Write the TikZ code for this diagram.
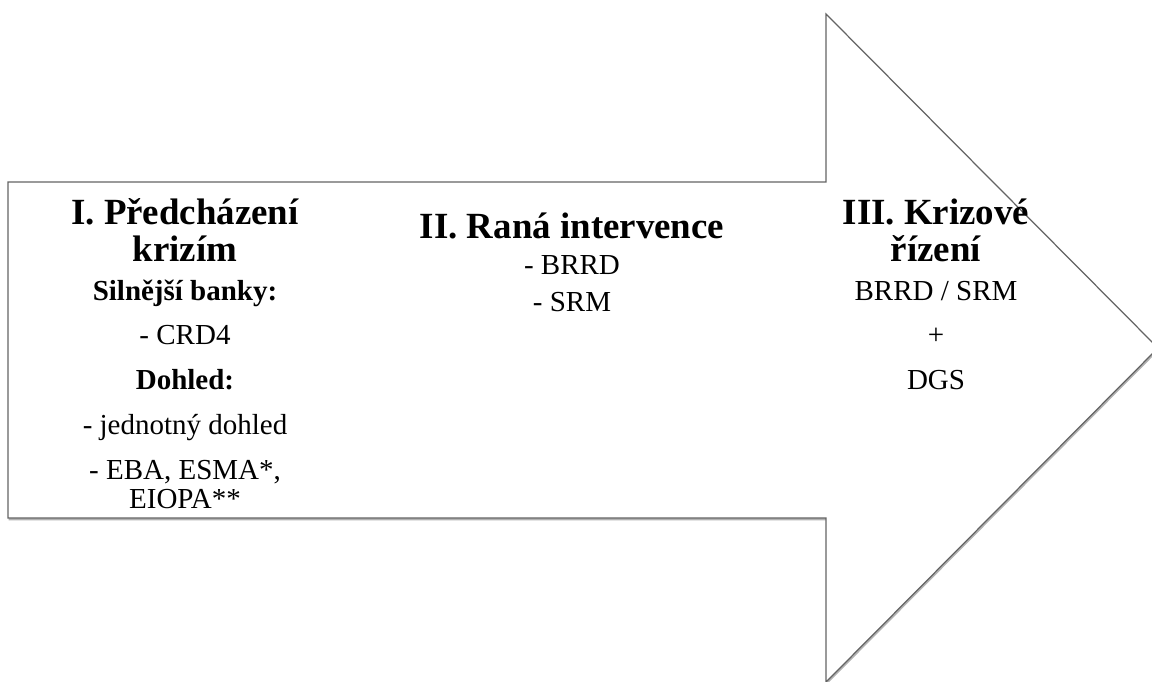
\documentclass[tikz,border=0pt]{standalone}
\usepackage{fontspec}
\setmainfont{Liberation Serif}
\usetikzlibrary{shadows}

\begin{document}
\begin{tikzpicture}[x=0.02cm, y=-0.02cm]
\definecolor{edge_color}{RGB}{100,100,100}

\tikzset{
  head_text/.style={font=\fontsize{21}{21}\selectfont\bfseries, align=center, anchor=base},
  sub_text/.style={font=\fontsize{16.5}{16.5}\selectfont\bfseries, anchor=base},
  item_text/.style={font=\fontsize{16.5}{16.5}\selectfont, anchor=base},
}

\useasboundingbox (0,0) rectangle (1152,681);
\clip (0,0) rectangle (1152,681);

% the big arrow
\draw[draw=edge_color, line width=0.7pt, fill=white,
      drop shadow={shadow xshift=0.4pt, shadow yshift=-1.4pt, fill=black, opacity=0.3}]
  (8,182) -- (826,182) -- (826,14) -- (1158,348) -- (826,682) -- (826,518) -- (8,518) -- cycle;

% I. (base of a two-line node = its last line)
\node[head_text] (prevence) at (185,261) {I. Předcházení\\krizím};
\node[sub_text] (banky) at (185,300) {Silnější banky:};
\node[item_text] (crd) at (185,344) {- CRD4};
\node[sub_text] (dohled) at (185,389) {Dohled:};
\node[item_text] (jednotny) at (185,434) {- jednotný dohled};
\node[item_text] (eba) at (185,479) {- EBA, ESMA*,};
\node[item_text] (eiopa) at (185,508) {EIOPA**};

% II.
\node[head_text] (intervence) at (572,238) {II. Raná intervence};
\node[item_text] (brrd) at (572,274) {- BRRD};
\node[item_text] (srm) at (572,311) {- SRM};

% III.
\node[head_text] (krize) at (936,261) {III. Krizové\\řízení};
\node[item_text] (brrdsrm) at (936,300) {BRRD / SRM};
\node[item_text] (plus) at (936,344) {+};
\node[item_text] (dgs) at (936,389) {DGS};

\end{tikzpicture}
\end{document}
